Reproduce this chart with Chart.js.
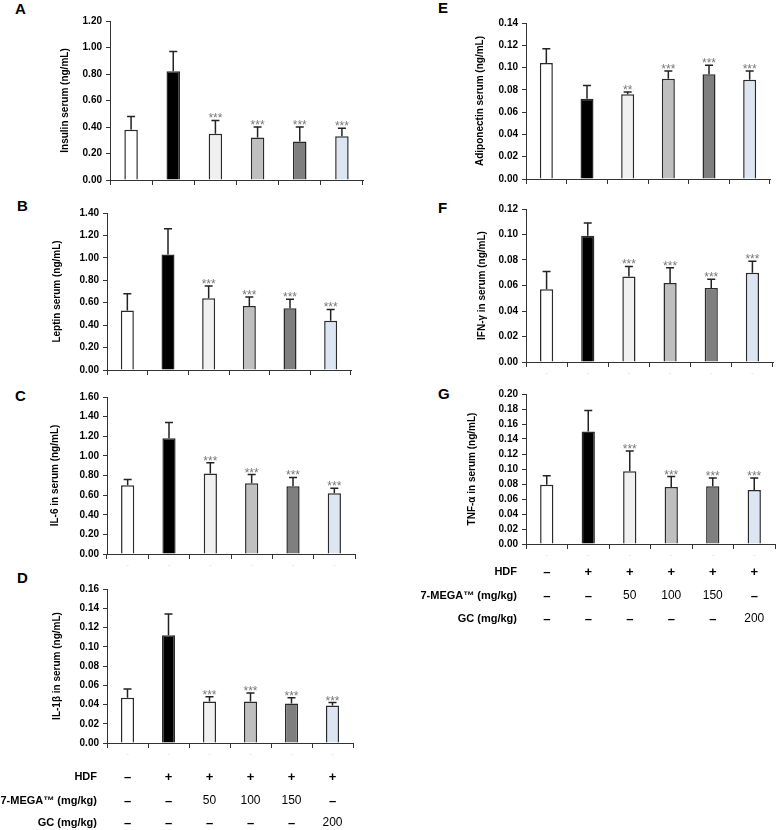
<!DOCTYPE html>
<html>
<head>
<meta charset="utf-8">
<script src="https://cdn.jsdelivr.net/npm/chart.js@4.4.1/dist/chart.umd.min.js"></script>
<style>
  html, body { margin: 0; padding: 0; background: #fff; }
  #wrap { position: relative; width: 777px; height: 830px; overflow: hidden; font-family: "Liberation Sans", Arial, sans-serif; }
  canvas { position: absolute; }
  .letter { position: absolute; font: bold 15px/15px "Liberation Sans", Arial, sans-serif; color: #000; }
</style>
</head>
<body>
<div id="wrap">
  <div class="letter" style="left:15px;top:1px">A</div>
  <div class="letter" style="left:17px;top:198px">B</div>
  <div class="letter" style="left:15px;top:388px">C</div>
  <div class="letter" style="left:17px;top:570px">D</div>
  <div class="letter" style="left:438px;top:0px">E</div>
  <div class="letter" style="left:438px;top:200px">F</div>
  <div class="letter" style="left:438px;top:386px">G</div>
  <canvas id="chartA"></canvas>
  <canvas id="chartB"></canvas>
  <canvas id="chartC"></canvas>
  <canvas id="chartD"></canvas>
  <canvas id="chartE"></canvas>
  <canvas id="chartF"></canvas>
  <canvas id="chartG"></canvas>
</div>
<script>
const groups = ['Normal', 'HDF', '7-MEGA 50', '7-MEGA 100', '7-MEGA 150', 'GC 200'];
const barColors = ['#ffffff', '#000000', '#f0f0f0', '#bfbfbf', '#7f7f7f', '#dce6f2'];

// mean and SD (ng/mL)
const insulinMean = [0.38, 0.82, 0.35, 0.32, 0.29, 0.33];
const insulinSd   = [0.10, 0.15, 0.10, 0.08, 0.11, 0.06];
const leptinMean  = [0.53, 1.03, 0.64, 0.57, 0.55, 0.44];
const leptinSd    = [0.15, 0.23, 0.11, 0.08, 0.08, 0.10];
const il6Mean     = [0.70, 1.18, 0.82, 0.72, 0.69, 0.62];
const il6Sd       = [0.06, 0.16, 0.11, 0.09, 0.09, 0.05];
const il1bMean    = [0.047, 0.112, 0.043, 0.043, 0.041, 0.039];
const il1bSd      = [0.009, 0.022, 0.005, 0.009, 0.006, 0.003];
const adipoMean   = [0.104, 0.072, 0.076, 0.090, 0.094, 0.089];
const adipoSd     = [0.013, 0.012, 0.002, 0.007, 0.008, 0.008];
const ifnMean     = [0.057, 0.099, 0.067, 0.062, 0.058, 0.070];
const ifnSd       = [0.014, 0.010, 0.008, 0.012, 0.007, 0.009];
const tnfMean     = [0.079, 0.150, 0.097, 0.076, 0.077, 0.072];
const tnfSd       = [0.012, 0.028, 0.027, 0.014, 0.011, 0.016];

const starsAll = ['', '', '***', '***', '***', '***'];
const starsAdipo = ['', '', '**', '***', '***', '***'];

// treatment table under D and G
const rowLabels = ['HDF', '7-MEGA\u2122 (mg/kg)', 'GC (mg/kg)'];
const hdfRow  = ['\u2013', '+', '+', '+', '+', '+'];
const megaRow = ['\u2013', '\u2013', '50', '100', '150', '\u2013'];
const gcRow   = ['\u2013', '\u2013', '\u2013', '\u2013', '\u2013', '200'];

const FONT = '"Liberation Sans", Arial, sans-serif';
const AXIS = '#333';

// draws SD whiskers (upper only) and significance stars
const errorBarPlugin = {
  id: 'errorBars',
  afterDatasetsDraw(chart, args, opts) {
    const { ctx } = chart;
    const yScale = chart.scales.y;
    const meta = chart.getDatasetMeta(0);
    const mean = chart.data.datasets[0].data;
    ctx.save();
    meta.data.forEach((bar, i) => {
      const top = yScale.getPixelForValue(mean[i] + opts.sd[i]);
      ctx.strokeStyle = '#222';
      ctx.lineWidth = 1.5;
      ctx.beginPath();
      ctx.moveTo(bar.x, bar.y);
      ctx.lineTo(bar.x, top);
      ctx.moveTo(bar.x - 4, top);
      ctx.lineTo(bar.x + 4, top);
      ctx.stroke();
      if (opts.stars && opts.stars[i]) {
        ctx.fillStyle = '#777';
        ctx.font = '12px ' + FONT;
        ctx.textAlign = 'center';
        ctx.textBaseline = 'alphabetic';
        ctx.fillText(opts.stars[i], bar.x, top + 2);
      }
    });
    ctx.restore();
  }
};

const tablePlugin = {
  id: 'treatTable',
  afterDraw(chart, args, opts) {
    if (!opts.rows) { return; }
    const { ctx } = chart;
    const xScale = chart.scales.x;
    ctx.save();
    ctx.textBaseline = 'middle';
    opts.rows.forEach((row, r) => {
      const y = opts.rowY[r];
      ctx.fillStyle = '#000';
      ctx.font = 'bold 11px ' + FONT;
      ctx.textAlign = 'right';
      ctx.fillText(rowLabels[r], opts.labelX, y);
      ctx.textAlign = 'center';
      row.forEach((cell, i) => {
        const x = xScale.getPixelForValue(i);
        if (cell === '\u2013' || cell === '+') {
          ctx.font = 'bold 13px ' + FONT;
        } else {
          ctx.font = '12px ' + FONT;
        }
        ctx.fillText(cell, x, y);
      });
    });
    ctx.restore();
  }
};

function makePanel(p) {
  const el = document.getElementById(p.id);
  el.style.left = p.left + 'px';
  el.style.top = p.top + 'px';
  el.style.width = p.width + 'px';
  el.style.height = p.height + 'px';
  el.width = p.width;
  el.height = p.height;

  return new Chart(el.getContext('2d'), {
    type: 'bar',
    data: {
      labels: groups,
      datasets: [{
        data: p.mean,
        backgroundColor: barColors,
        borderColor: '#2a2a2a',
        borderWidth: 1.5,
        borderSkipped: 'bottom',
        categoryPercentage: 1,
        barPercentage: 0.32,
      }],
    },
    options: {
      responsive: false,
      animation: false,
      devicePixelRatio: 1,
      layout: { padding: { left: p.padLeft, top: p.padTop, right: p.padRight, bottom: 0 } },
      scales: {
        x: {
          grid: { display: true, drawOnChartArea: false, drawTicks: true, tickLength: 5, color: AXIS, offset: true },
          border: { display: true, color: AXIS, width: 1 },
          ticks: {
            display: !!p.faintTicks,
            padding: 1,
            color: '#d6d6d6',
            font: { size: 8, family: FONT },
            callback: () => '-',
          },
          afterFit: (s) => { s.height = p.xHeight; },
        },
        y: {
          min: 0,
          max: p.max,
          ticks: {
            stepSize: p.step,
            color: '#000',
            padding: 4,
            font: { size: 10, weight: 'bold', family: FONT },
            callback: (v) => Number(v).toFixed(2),
          },
          grid: { display: true, drawOnChartArea: false, drawTicks: true, tickLength: 4, color: AXIS },
          border: { display: true, color: AXIS, width: 1 },
          title: {
            display: true,
            text: p.title,
            color: '#000',
            padding: 0,
            font: { size: 10, weight: 'bold', family: FONT },
          },
          afterFit: (s) => { s.width = p.yWidth; },
        },
      },
      plugins: {
        legend: { display: false },
        tooltip: { enabled: false },
        errorBars: { sd: p.sd, stars: p.stars },
        treatTable: p.table || {},
      },
    },
    plugins: [errorBarPlugin, tablePlugin],
  });
}

makePanel({ id: 'chartA', left: 0, top: 0, width: 380, height: 190, padLeft: 59, padTop: 21, padRight: 17, yWidth: 51, xHeight: 10,
  mean: insulinMean, sd: insulinSd, stars: starsAll, max: 1.2, step: 0.2, title: 'Insulin serum (ng/mL)' });
makePanel({ id: 'chartB', left: 0, top: 190, width: 380, height: 190, padLeft: 51, padTop: 23, padRight: 29, yWidth: 56, xHeight: 9,
  mean: leptinMean, sd: leptinSd, stars: starsAll, max: 1.4, step: 0.2, title: 'Leptin serum (ng/mL)' });
makePanel({ id: 'chartC', left: 0, top: 380, width: 380, height: 190, padLeft: 49, padTop: 17, padRight: 25, yWidth: 58, xHeight: 16, faintTicks: true,
  mean: il6Mean, sd: il6Sd, stars: starsAll, max: 1.6, step: 0.2, title: 'IL-6 in serum (ng/mL)' });
makePanel({ id: 'chartD', left: 0, top: 570, width: 380, height: 260, padLeft: 51, padTop: 19, padRight: 27, yWidth: 56, xHeight: 87, faintTicks: true,
  mean: il1bMean, sd: il1bSd, stars: starsAll, max: 0.16, step: 0.02, title: 'IL-1\u03b2 in serum (ng/mL)',
  table: { rows: [hdfRow, megaRow, gcRow], rowY: [207, 231, 253], labelX: 97 } });
makePanel({ id: 'chartE', left: 390, top: 0, width: 387, height: 190, padLeft: 84, padTop: 23, padRight: 7, yWidth: 52, xHeight: 11,
  mean: adipoMean, sd: adipoSd, stars: starsAdipo, max: 0.14, step: 0.02, title: 'Adiponectin serum (ng/mL)' });
makePanel({ id: 'chartF', left: 390, top: 190, width: 387, height: 190, padLeft: 86, padTop: 19, padRight: 4, yWidth: 50, xHeight: 18, faintTicks: true,
  mean: ifnMean, sd: ifnSd, stars: starsAll, max: 0.12, step: 0.02, title: 'IFN-\u03b3 in serum (ng/mL)' });
makePanel({ id: 'chartG', left: 390, top: 380, width: 387, height: 260, padLeft: 76, padTop: 14, padRight: 2, yWidth: 60, xHeight: 96, faintTicks: true,
  mean: tnfMean, sd: tnfSd, stars: starsAll, max: 0.20, step: 0.02, title: 'TNF-\u03b1 in serum (ng/mL)',
  table: { rows: [hdfRow, megaRow, gcRow], rowY: [192, 216, 239], labelX: 127 } });
</script>
</body>
</html>
